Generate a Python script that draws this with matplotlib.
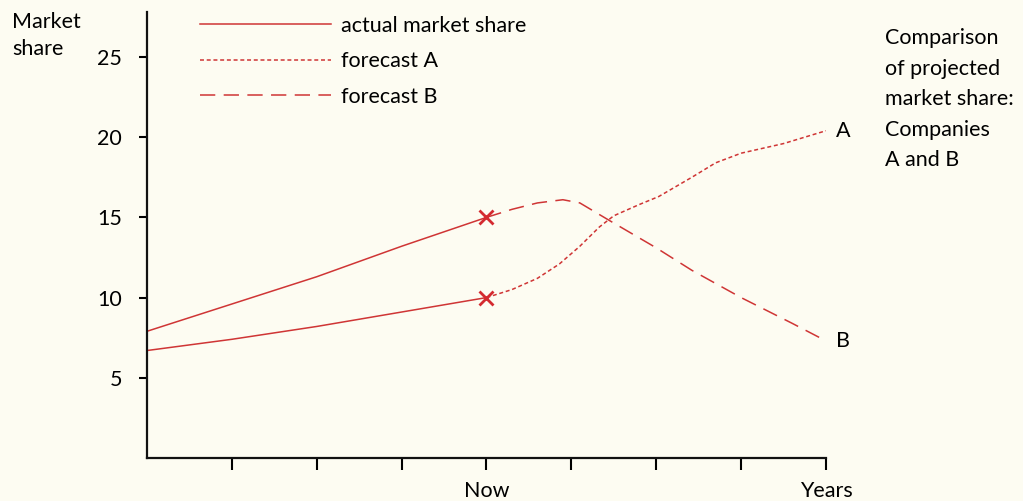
import matplotlib
matplotlib.use("Agg")
import matplotlib.pyplot as plt
from matplotlib.lines import Line2D

plt.rcParams['font.family'] = ['Lato', 'DejaVu Sans']

# Actual market share up to "Now" (x = 4)
actual_x = [0, 1, 2, 3, 4]
actual_a = [6.7, 7.4, 8.2, 9.1, 10.0]
actual_b = [7.9, 9.6, 11.3, 13.2, 15.0]

# Forecast A (dotted)
fa_x = [4.0, 4.3, 4.6, 4.86, 5.1, 5.33, 5.5, 5.8, 6.03, 6.42, 6.7, 7.0, 7.5, 8.0]
fa_y = [10.0, 10.5, 11.2, 12.1, 13.2, 14.4, 15.1, 15.8, 16.3, 17.5, 18.4, 19.0, 19.6, 20.4]

# Forecast B (dashed)
fb_x = [4.0, 4.3, 4.6, 4.9, 5.1, 5.45, 6.0, 6.42, 7.0, 7.6, 8.0]
fb_y = [15.0, 15.5, 15.9, 16.1, 15.9, 14.8, 13.1, 11.7, 10.0, 8.4, 7.3]

now_x = 4
y_ticks = [5, 10, 15, 20, 25]
x_ticks = [1, 2, 3, 4, 5, 6, 7, 8]
x_tick_labels = ['', '', '', 'Now', '', '', '', 'Years']
legend_labels = ['actual market share', 'forecast A', 'forecast B']
title_text = "Comparison\nof projected\nmarket share:\nCompanies\nA and B"

red = '#cf3535'
bg = '#fdfcf2'
fs = 15.5

fig = plt.figure(figsize=(10.23, 5.01), dpi=100, facecolor=bg)
ax = fig.add_axes([0.1437, 0.0858, 0.6637, 0.8902], facecolor=bg)

lw = 1.1
dot_style = (0, (2.6, 1.8))
dash_style = (0, (10, 5.5))

ax.plot(actual_x, actual_a, color=red, lw=lw, solid_capstyle='butt')
ax.plot(actual_x, actual_b, color=red, lw=lw, solid_capstyle='butt')
ax.plot(fa_x, fa_y, color=red, lw=lw, linestyle=dot_style)
ax.plot(fb_x, fb_y, color=red, lw=lw, linestyle=dash_style)
ax.plot([now_x, now_x], [actual_a[-1], actual_b[-1]], linestyle='none',
        marker='x', markersize=10, markeredgewidth=2, color='#d42a30', zorder=5)

# End-of-line labels
ax.text(fa_x[-1] + 0.12, fa_y[-1], 'A', fontsize=fs, va='center', ha='left')
ax.text(fb_x[-1] + 0.12, fb_y[-1], 'B', fontsize=fs, va='center', ha='left')

ax.set_xlim(0, 8)
ax.set_ylim(0, 27.8)

for s in ['top', 'right']:
    ax.spines[s].set_visible(False)
for s in ['left', 'bottom']:
    ax.spines[s].set_linewidth(1.6)
    ax.spines[s].set_color('#111111')

ax.set_yticks(y_ticks)
ax.set_yticklabels([str(v) for v in y_ticks])
ax.set_xticks(x_ticks)
ax.set_xticklabels(x_tick_labels)
ax.tick_params(axis='y', direction='out', length=6, width=1.5, pad=12, labelsize=fs)
ax.tick_params(axis='x', direction='out', length=8.5, width=1.5, pad=8, labelsize=fs)

handles = [
    Line2D([], [], color=red, lw=lw),
    Line2D([], [], color=red, lw=lw, linestyle=dot_style),
    Line2D([], [], color=red, lw=lw, linestyle=dash_style),
]
ax.legend(handles, legend_labels, loc='upper left', bbox_to_anchor=(0.05, 1.035),
          frameon=False, fontsize=fs, handlelength=6.05, handletextpad=0.47,
          labelspacing=0.72)

fig.text(12 / 1023, 1 - 12 / 501, "Market\nshare", fontsize=fs, va='top', ha='left',
         linespacing=1.42)
fig.text(885 / 1023, 1 - 28 / 501, title_text, fontsize=fs, va='top', ha='left',
         linespacing=1.66)

fig.savefig('out.png', dpi=100, facecolor=bg)
